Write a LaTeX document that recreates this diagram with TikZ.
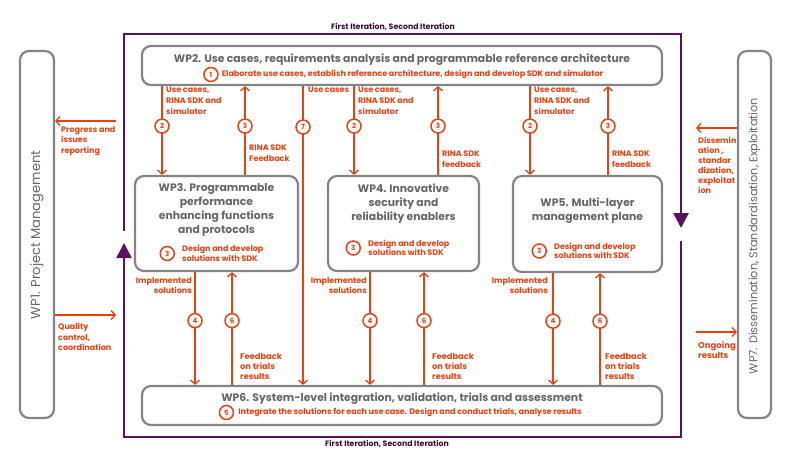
\documentclass[tikz,border=0pt]{standalone}
\usepackage{fontspec}
\setmainfont{Poppins}
\usetikzlibrary{positioning, arrows.meta, calc}
\definecolor{wpgray}{HTML}{858585}
\definecolor{wptext}{HTML}{666666}
\definecolor{flowred}{HTML}{E8400F}
\definecolor{iterpurple}{HTML}{5E0F60}
\definecolor{iterdark}{HTML}{3A0A3C}

\begin{document}
\begin{tikzpicture}[x=1pt, y=-1pt,
  wpbox/.style={draw=wpgray, line width=2.2pt, rounded corners=9pt, fill=white},
  wptitle/.style={text=wptext, font=\fontsize{10.8}{14}\selectfont\bfseries, align=center, inner sep=0pt},
  wpside/.style={text=wptext, rotate=90, inner sep=0pt},
  num/.style={circle, draw=flowred, line width=1.5pt, fill=white, minimum size=14pt, inner sep=0pt,
              text=flowred, font=\fontsize{7}{7}\selectfont\bfseries},
  flow/.style={flowred, line width=1.3pt},
  flowtip/.style={flow, -{Straight Barb[length=4pt, width=9pt, line width=1.3pt]}},
  flowlbl/.style={text=flowred, align=left, inner sep=0pt, font=\fontsize{8}{10.6}\selectfont\bfseries},
  triallbl/.style={flowlbl, font=\fontsize{8.3}{10}\selectfont\bfseries},
  iter/.style={iterpurple, line width=2.6pt},
  itertip/.style={iter, -{Triangle[length=15pt, width=15pt]}},
  iterlbl/.style={text=iterdark, font=\fontsize{7.8}{8}\selectfont\bfseries}]
  \useasboundingbox (0,0) rectangle (799,461);

  % outer iteration frame
  \coordinate (fnw) at (124,34);
  \coordinate (fne) at (681,34);
  \coordinate (fse) at (681,437);
  \coordinate (fsw) at (124,437);
  \coordinate (fwup) at (124,230);
  \coordinate (fwtip) at (124,243);
  \coordinate (fedown) at (681,242);
  \coordinate (fetip) at (681,228);
  \draw[iter, line cap=rect] (fwup) -- (fnw) -- (fne) -- (fetip |- 0,213);
  \draw[itertip] (fne) -- (fetip);
  \draw[iter, line cap=rect] (fedown) -- (fse) -- (fsw);
  \draw[itertip] (fsw) -- (fwtip);
  \node[iterlbl] (itertop) at (393,27) {First Iteration, Second Iteration};
  \node[iterlbl] (iterbot) at (387,444) {First Iteration, Second Iteration};

  % work packages
  \node[wpbox, minimum width=520pt, minimum height=39pt] (wp2) at (402,65.5) {};
  \node[wptitle] (wp2t) at (402,59.5) {WP2. Use cases, requirements analysis and programmable reference architecture};
  \node[flowlbl] (wp2d) at (412.5,74.5) {Elaborate use cases, establish reference architecture, design and develop SDK and simulator};
  \node[num, left=3pt of wp2d] (n1) {1};

  \node[wpbox, minimum width=163pt, minimum height=95pt] (wp3) at (216.5,223.5) {};
  \node[wptitle] (wp3t) at (216.5,210) {WP3. Programmable\\performance\\enhancing functions\\and protocols};
  \node[flowlbl, anchor=west] (wp3d) at (182,253.5) {Design and develop\\[-1pt]solutions with SDK};
  \node[num, left=7pt of wp3d] (n3a) {3};

  \node[wpbox, minimum width=151pt, minimum height=95pt] (wp4) at (403.5,223.5) {};
  \node[wptitle] (wp4t) at (403.5,204) {WP4. Innovative\\security and\\reliability enablers};
  \node[flowlbl, anchor=west] (wp4d) at (368,248) {Design and develop\\[-1pt]solutions with SDK};
  \node[num, left=7pt of wp4d] (n3b) {3};

  \node[wpbox, minimum width=149pt, minimum height=96pt] (wp5) at (587.5,224) {};
  \node[wptitle] (wp5t) at (587.5,211) {WP5. Multi-layer\\management plane};
  \node[flowlbl, anchor=west] (wp5d) at (554,251) {Design and develop\\[-1pt]solutions with SDK};
  \node[num, left=7pt of wp5d] (n3c) {3};

  \node[wpbox, minimum width=520pt, minimum height=39pt] (wp6) at (402,405.5) {};
  \node[wptitle] (wp6t) at (402,399) {WP6. System-level integration, validation, trials and assessment};
  \node[flowlbl] (wp6d) at (410,412.5) {Integrate the solutions for each use case. Design and conduct trials, analyse results};
  \node[num, left=4pt of wp6d] (n5) {5};

  \node[wpbox, minimum width=34pt, minimum height=367pt] (wp1) at (37,234.5) {};
  \node[wpside, font=\fontsize{13}{14}\selectfont] (wp1t) at (37,235) {WP1. Project Management};
  \node[wpbox, minimum width=33pt, minimum height=367pt] (wp7) at (754.5,234.5) {};
  \node[wpside, font=\fontsize{11.3}{12}\selectfont] (wp7t) at (754.5,236) {WP7. Dissemination, Standardisation, Exploitation};

  % columns of the flows
  \coordinate (c3down) at (162,0);
  \coordinate (c3up) at (245,0);
  \coordinate (c7) at (303,0);
  \coordinate (c4down) at (354,0);
  \coordinate (c4up) at (438,0);
  \coordinate (c5down) at (530,0);
  \coordinate (c5up) at (608,0);
  \coordinate (c3impl) at (195,0);
  \coordinate (c3fb) at (232,0);
  \coordinate (c4impl) at (370,0);
  \coordinate (c4fb) at (424,0);
  \coordinate (c5impl) at (553,0);
  \coordinate (c5fb) at (600,0);

  % WP2 <-> WP3, WP4, WP5
  \draw[flowtip] (wp2.south -| c3down) -- (wp3.north -| c3down) node[num, pos=0.45] (f2a) {2};
  \draw[flowtip] (wp3.north -| c3up) -- (wp2.south -| c3up) node[num, pos=0.55] (f3a) {3};
  \draw[flowtip] (wp2.south -| c7) -- (wp6.north -| c7) node[num, pos=0.137] (f7) {7};
  \draw[flowtip] (wp2.south -| c4down) -- (wp4.north -| c4down) node[num, pos=0.45] (f2b) {2};
  \draw[flowtip] (wp4.north -| c4up) -- (wp2.south -| c4up) node[num, pos=0.55] (f3b) {3};
  \draw[flowtip] (wp2.south -| c5down) -- (wp5.north -| c5down) node[num, pos=0.45] (f2c) {2};
  \draw[flowtip] (wp5.north -| c5up) -- (wp2.south -| c5up) node[num, pos=0.55] (f3c) {3};

  \node[flowlbl, anchor=north west] (l2a) at (166,87) {Use cases,\\RINA SDK and\\simulator};
  \node[flowlbl, anchor=north west] (l3a) at (249,145) {RINA SDK\\Feedback};
  \node[flowlbl, anchor=north west] (l7) at (308,87) {Use cases};
  \node[flowlbl, anchor=north west] (l2b) at (358,87) {Use cases,\\RINA SDK and\\simulator};
  \node[flowlbl, anchor=north west] (l3b) at (442,151) {RINA SDK\\feedback};
  \node[flowlbl, anchor=north west] (l2c) at (534,87) {Use cases,\\RINA SDK and\\simulator};
  \node[flowlbl, anchor=north west] (l3c) at (612,151) {RINA SDK\\feedback};

  % WP3, WP4, WP5 <-> WP6
  \draw[flowtip] (wp3.south -| c3impl) -- (wp6.north -| c3impl) node[num, pos=0.43] (f4a) {4};
  \draw[flowtip] (wp6.north -| c3fb) -- (wp3.south -| c3fb) node[num, pos=0.57] (f6a) {6};
  \draw[flowtip] (wp4.south -| c4impl) -- (wp6.north -| c4impl) node[num, pos=0.43] (f4b) {4};
  \draw[flowtip] (wp6.north -| c4fb) -- (wp4.south -| c4fb) node[num, pos=0.57] (f6b) {6};
  \draw[flowtip] (wp5.south -| c5impl) -- (wp6.north -| c5impl) node[num, pos=0.43] (f4c) {4};
  \draw[flowtip] (wp6.north -| c5fb) -- (wp5.south -| c5fb) node[num, pos=0.57] (f6c) {6};

  \node[flowlbl, anchor=north east, align=right, font=\fontsize{8}{10}\selectfont\bfseries] (l4a) at (192,277) {Implemented\\solutions};
  \node[triallbl, anchor=north west] (l6a) at (240,353) {Feedback\\on trials\\results};
  \node[flowlbl, anchor=north east, align=right, font=\fontsize{8}{10}\selectfont\bfseries] (l4b) at (367,277) {Implemented\\solutions};
  \node[triallbl, anchor=north west] (l6b) at (432,353) {Feedback\\on trials\\results};
  \node[flowlbl, anchor=north east, align=right, font=\fontsize{8}{10}\selectfont\bfseries] (l4c) at (548,277) {Implemented\\solutions};
  \node[triallbl, anchor=north west] (l6c) at (605,353) {Feedback\\on trials\\results};

  % WP1 and WP7
  \coordinate (progfrom) at (116,121);
  \coordinate (qualto) at (116,315);
  \coordinate (dissto) at (696,128);
  \coordinate (ongfrom) at (696,332);
  \draw[flowtip] (progfrom) -- (progfrom -| wp1.east);
  \draw[flowtip] (qualto -| wp1.east) -- (qualto);
  \draw[flowtip] (dissto -| wp7.west) -- (dissto);
  \draw[flowtip] (ongfrom) -- (ongfrom -| wp7.west);
  \node[flowlbl, anchor=north west] (lprog) at (61,126) {Progress and\\issues\\reporting};
  \node[flowlbl, anchor=north west] (lqual) at (58,323) {Quality\\control,\\coordination};
  \node[flowlbl, anchor=north west, font=\fontsize{8}{10}\selectfont\bfseries] (ldiss) at (698,137) {Dissemin\\ation ,\\standar\\dization,\\exploitat\\ion};
  \node[flowlbl, anchor=north west, font=\fontsize{8.5}{10}\selectfont\bfseries] (long) at (698,341) {Ongoing\\results};
\end{tikzpicture}
\end{document}
